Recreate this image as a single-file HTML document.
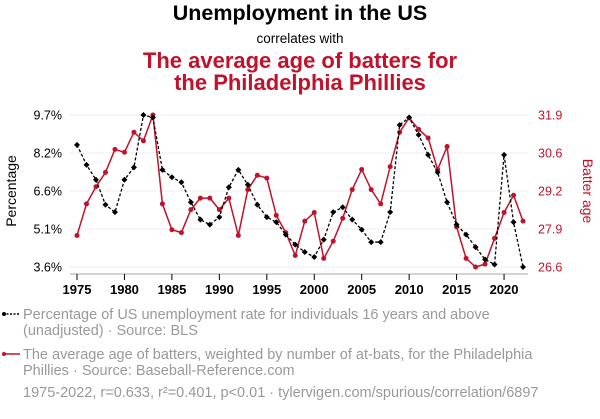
<!DOCTYPE html>
<html><head><meta charset="utf-8"><style>
body{margin:0;background:#fff;width:600px;height:414px;overflow:hidden;font-family:"Liberation Sans",sans-serif}
</style></head><body>
<svg id="c" width="600" height="414" xmlns="http://www.w3.org/2000/svg" font-family="Liberation Sans, sans-serif">
<text x="300" y="20" text-anchor="middle" font-size="21.5" font-weight="bold" fill="#000">Unemployment in the US</text>
<text x="300" y="43" text-anchor="middle" font-size="13.5" fill="#000">correlates with</text>
<text x="300" y="68" text-anchor="middle" font-size="22" font-weight="bold" fill="#c0132b">The average age of batters for</text>
<text x="300" y="90" text-anchor="middle" font-size="22" font-weight="bold" fill="#c0132b">the Philadelphia Phillies</text>
<g id="grid"></g>
<g id="axes"></g>
<g id="series"></g>
<text transform="translate(16,191) rotate(-90)" text-anchor="middle" font-size="14" fill="#000">Percentage</text>
<text transform="translate(583,191) rotate(90)" text-anchor="middle" font-size="14" fill="#c0132b">Batter age</text>
<g>
<line x1="3" y1="314" x2="20" y2="314" stroke="#000" stroke-width="1.5" stroke-dasharray="2,1.5"/>
<circle cx="4" cy="314" r="2" fill="#000"/>
<text x="23" y="319" font-size="14.5" fill="#999">Percentage of US unemployment rate for individuals 16 years and above</text>
<text x="23" y="335" font-size="14.5" fill="#999">(unadjusted) · Source: BLS</text>
</g>
<g>
<line x1="3" y1="354" x2="20" y2="354" stroke="#c0132b" stroke-width="1.5"/>
<circle cx="4" cy="354" r="2" fill="#c0132b"/>
<text x="23" y="359" font-size="14.5" fill="#999">The average age of batters, weighted by number of at-bats, for the Philadelphia</text>
<text x="23" y="375" font-size="14.5" fill="#999">Phillies · Source: Baseball-Reference.com</text>
</g>
<text x="23" y="397" font-size="14.5" fill="#999">1975-2022, r=0.633, r²=0.401, p&lt;0.01 · tylervigen.com/spurious/correlation/6897</text>
</svg>
<script>
const years=[];for(let y=1975;y<=2022;y++)years.push(y);
const unemployment=[8.5,7.7,7.1,6.1,5.8,7.1,7.6,9.7,9.6,7.5,7.2,7.0,6.2,5.5,5.3,5.6,6.8,7.5,6.9,6.1,5.6,5.4,4.9,4.5,4.2,4.0,4.7,5.8,6.0,5.5,5.1,4.6,4.6,5.8,9.3,9.6,8.9,8.1,7.4,6.2,5.3,4.9,4.4,3.9,3.7,8.1,5.4,3.6];
const batterAge=[27.7,28.8,29.4,29.9,30.7,30.6,31.3,31.0,31.9,28.8,27.9,27.8,28.6,29.0,29.0,28.6,29.0,27.7,29.3,29.8,29.7,28.4,27.8,27.0,28.2,28.5,26.9,27.5,28.3,29.3,30.0,29.3,28.8,30.1,31.3,31.8,31.4,31.1,30.0,30.8,28.0,26.9,26.6,26.7,27.6,28.5,29.1,28.2];
const leftTicks=["3.6%","5.1%","6.6%","8.2%","9.7%"];
const rightTicks=["26.6","27.9","29.2","30.6","31.9"];
const xTicks=[1975,1980,1985,1990,1995,2000,2005,2010,2015,2020];
const NS="http://www.w3.org/2000/svg";
const x=y=>77+(y-1975)*9.49;
const yL=v=>267-(v-3.6)*(152/6.1);
const yR=v=>267-(v-26.6)*(152/5.3);
function mk(t,a,p){const e=document.createElementNS(NS,t);for(const k in a)e.setAttribute(k,a[k]);p.appendChild(e);return e;}
const grid=document.getElementById('grid'),axes=document.getElementById('axes'),ser=document.getElementById('series');
for(let i=0;i<5;i++){const yy=267-i*38;
const g=mk('line',{x1:70,x2:528,y1:yy,y2:yy,stroke:'#eee','stroke-width':1},grid);


const l=mk('text',{x:62,y:yy+4.5,'text-anchor':'end','font-size':12.5,fill:'#000'},axes);l.textContent=leftTicks[i];


const r=mk('text',{x:538,y:yy+4.5,'font-size':12.5,fill:'#c0132b'},axes);r.textContent=rightTicks[i];


}
const ax=mk('line',{x1:70,x2:528,y1:274,y2:274,stroke:'#aaa'},axes);


xTicks.forEach(t=>{const e=mk('text',{x:x(t),y:294,'text-anchor':'middle','font-size':13,'font-weight':'bold',fill:'#000'},axes);e.textContent=t;


const m=mk('line',{x1:x(t),x2:x(t),y1:274,y2:280,stroke:'#000'},axes);

});
const pr=mk('polyline',{points:years.map((y,i)=>x(y)+','+yR(batterAge[i])).join(' '),fill:'none',stroke:'#c0132b','stroke-width':1.5},ser);


years.forEach((y,i)=>{const c=mk('circle',{cx:x(y),cy:yR(batterAge[i]),r:2.5,fill:'#c0132b'},ser);

});
const pu=mk('polyline',{points:years.map((y,i)=>x(y)+','+yL(unemployment[i])).join(' '),fill:'none',stroke:'#000','stroke-width':1.3,'stroke-dasharray':'3,2'},ser);


years.forEach((y,i)=>{const cx=x(y),cy=yL(unemployment[i]);const d=mk('polygon',{points:`${cx},${cy-3} ${cx+3},${cy} ${cx},${cy+3} ${cx-3},${cy}`,fill:'#000'},ser);

});
</script>
</body></html>
